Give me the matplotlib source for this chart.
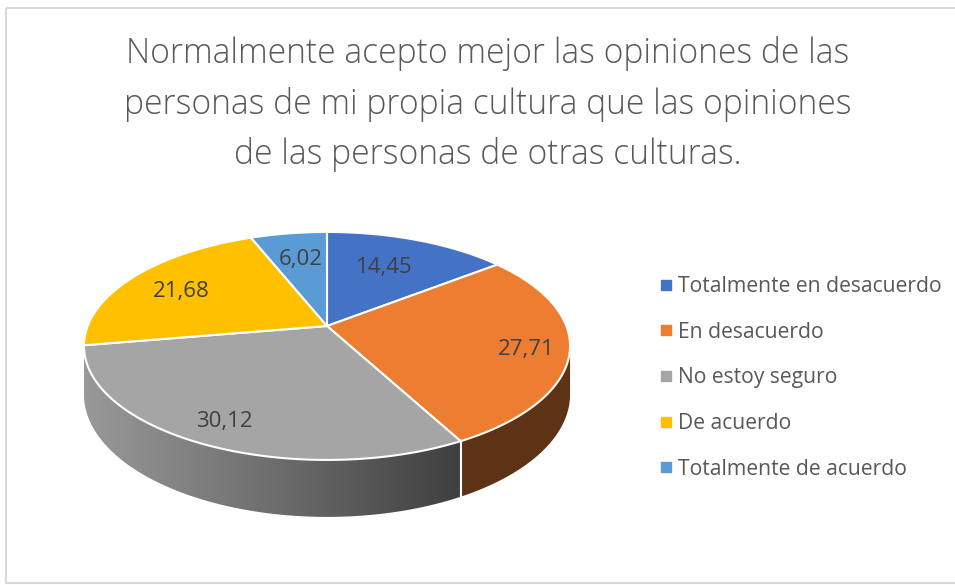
import numpy as np
import matplotlib
matplotlib.use("Agg")
import matplotlib.pyplot as plt
from matplotlib.patches import Polygon, Rectangle
from matplotlib.lines import Line2D
from matplotlib.colors import LinearSegmentedColormap

plt.rcParams['font.family'] = ['Open Sans', 'DejaVu Sans']

# datos
categorias = ['Totalmente en desacuerdo', 'En desacuerdo', 'No estoy seguro',
              'De acuerdo', 'Totalmente de acuerdo']
valores = [14.45, 27.71, 30.12, 21.68, 6.02]
etiquetas = ['14,45', '27,71', '30,12', '21,68', '6,02']
colores = ['#4472C4', '#ED7D31', '#A5A5A5', '#FFC000', '#5B9BD5']
titulo = ('Normalmente acepto mejor las opiniones de las\n'
          'personas de mi propia cultura que las opiniones\n'
          'de las personas de otras culturas.')

fig = plt.figure(figsize=(9.55, 5.85), dpi=100)
ax = fig.add_axes([0, 0, 1, 1])
ax.set_xlim(0, 955)
ax.set_ylim(585, 0)
ax.axis('off')

# marco del grafico
ax.add_patch(Rectangle((6, 8), 960, 575, fill=False, ec='#d9d9d9', lw=1.5))

# geometria del pastel 3d (proyeccion con perspectiva)
cx, cy = 327, 326      # centro del disco proyectado
A, B = 239.3, 110.5    # semiejes
p = 0.175              # perspectiva
prof = 47              # grosor


def punto(t):
    r = np.radians(t)
    d = 1 + p * np.cos(r)
    return cx + A * np.sin(r) / d, cy - B * np.cos(r) / d


def arco(t0, t1, n=150):
    t = np.linspace(t0, t1, n)
    x, y = punto(t)
    return np.column_stack([x, y])


def arco_inf(t0, t1, n=150):
    t = np.linspace(t0, t1, n)
    x, y = punto(t)
    d = 1 + p * np.cos(np.radians(t))
    return np.column_stack([x, y + prof / d])


total = sum(valores)
bordes = np.concatenate([[0], np.cumsum(valores) / total * 360])
t_lim = np.degrees(np.arccos(-p))   # extremos visibles del lateral

# caras laterales (solo la mitad delantera)
grad = LinearSegmentedColormap.from_list('g', ['#999999', '#6e6e6e', '#3f3f3f'])
for i in range(len(valores)):
    t0 = max(bordes[i], t_lim)
    t1 = min(bordes[i + 1], 360 - t_lim)
    if t1 <= t0:
        continue
    sup = arco(t0, t1)
    inf = arco_inf(t0, t1)[::-1]
    pts = np.vstack([sup, inf])
    poly = Polygon(pts, closed=True, lw=0)
    if i == 2:
        poly.set_facecolor('none')
        ax.add_patch(poly)
        img = ax.imshow(np.linspace(0, 1, 256)[None, :], cmap=grad, aspect='auto',
                        extent=(pts[:, 0].min(), pts[:, 0].max(),
                                pts[:, 1].max() + 2, pts[:, 1].min() - 2),
                        zorder=1)
        img.set_clip_path(poly)
    else:
        poly.set_facecolor('#5E3215')
        ax.add_patch(poly)
    # separacion blanca entre lados
    if t0 == bordes[i] and t_lim < t0 < 360 - t_lim:
        (x0, y0), (x1, y1) = arco(t0, t0, 1)[0], arco_inf(t0, t0, 1)[0]
        ax.plot([x0, x1], [y0, y1], color='white', lw=1.5, zorder=2)

# cara superior
for i in range(len(valores)):
    pts = np.vstack([[cx, cy], arco(bordes[i], bordes[i + 1])])
    ax.add_patch(Polygon(pts, closed=True, fc=colores[i], ec='white', lw=1.5, zorder=3))

# etiquetas de datos
pos_etq = [(384, 267), (526, 350), (224, 422), (181, 292), (301, 260)]
for (x, y), t in zip(pos_etq, etiquetas):
    ax.text(x, y, t, ha='center', va='center', fontsize=16, color='#404040', zorder=4)

# titulo
ax.text(488, 104, titulo, ha='center', va='center', fontsize=24.2, color='#595959',
        linespacing=1.58, fontweight='light')

# leyenda
manejadores = [Line2D([], [], ls='none', marker='s', markersize=7, color=c) for c in colores]
ax.legend(manejadores, categorias, loc='upper left', bbox_to_anchor=(660, 276),
          bbox_transform=ax.transData, frameon=False, fontsize=15.2,
          labelspacing=1.17, handlelength=0.6, handletextpad=0.25,
          borderpad=0, borderaxespad=0, labelcolor='#595959')

fig.savefig('out.png', dpi=100)
